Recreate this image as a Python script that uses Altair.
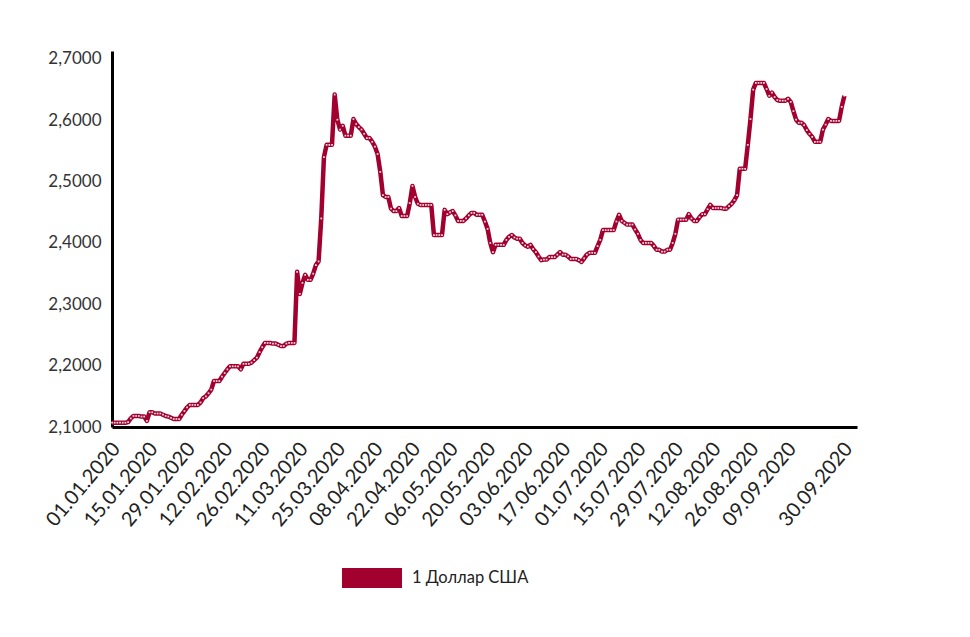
import altair as alt
import pandas as pd

# Daily official rate, 01.01.2020 .. 30.09.2020 (274 days)
rates = [
    2.107, 2.107, 2.107, 2.107, 2.107, 2.107, 2.108, 2.114, 2.118, 2.118,
    2.118, 2.117, 2.117, 2.110, 2.124, 2.124, 2.122, 2.122, 2.122, 2.120,
    2.118, 2.117, 2.115, 2.113, 2.113, 2.113, 2.120, 2.126, 2.132, 2.136,
    2.136, 2.136, 2.136, 2.140, 2.147, 2.150, 2.155, 2.161, 2.175, 2.175,
    2.175, 2.182, 2.188, 2.194, 2.199, 2.199, 2.199, 2.199, 2.194, 2.203,
    2.203, 2.203, 2.205, 2.209, 2.213, 2.222, 2.230, 2.237, 2.237, 2.237,
    2.236, 2.236, 2.234, 2.232, 2.232, 2.236, 2.237, 2.237, 2.237, 2.353,
    2.317, 2.335, 2.348, 2.340, 2.340, 2.350, 2.364, 2.370, 2.440, 2.540,
    2.560, 2.560, 2.560, 2.642, 2.601, 2.585, 2.591, 2.575, 2.575, 2.575,
    2.602, 2.594, 2.589, 2.585, 2.578, 2.571, 2.571, 2.565, 2.557, 2.545,
    2.516, 2.478, 2.475, 2.475, 2.456, 2.452, 2.452, 2.457, 2.444, 2.444,
    2.444, 2.465, 2.493, 2.475, 2.464, 2.462, 2.462, 2.462, 2.462, 2.462,
    2.413, 2.413, 2.413, 2.413, 2.454, 2.447, 2.450, 2.452, 2.445, 2.436,
    2.436, 2.436, 2.440, 2.445, 2.449, 2.449, 2.446, 2.446, 2.446, 2.435,
    2.423, 2.400, 2.385, 2.397, 2.397, 2.397, 2.397, 2.405, 2.410, 2.413,
    2.409, 2.407, 2.407, 2.400, 2.396, 2.394, 2.397, 2.390, 2.385, 2.378,
    2.372, 2.373, 2.373, 2.377, 2.377, 2.377, 2.381, 2.385, 2.381, 2.381,
    2.378, 2.374, 2.374, 2.374, 2.372, 2.369, 2.375, 2.381, 2.384, 2.384,
    2.384, 2.395, 2.405, 2.421, 2.421, 2.421, 2.421, 2.421, 2.435, 2.446,
    2.436, 2.433, 2.430, 2.430, 2.430, 2.422, 2.415, 2.405, 2.400, 2.400,
    2.400, 2.400, 2.395, 2.389, 2.389, 2.386, 2.386, 2.389, 2.389, 2.400,
    2.415, 2.438, 2.438, 2.438, 2.438, 2.447, 2.440, 2.436, 2.436, 2.442,
    2.447, 2.447, 2.455, 2.462, 2.457, 2.457, 2.457, 2.457, 2.456, 2.456,
    2.460, 2.464, 2.470, 2.478, 2.521, 2.521, 2.521, 2.560, 2.602, 2.650,
    2.661, 2.661, 2.661, 2.661, 2.651, 2.640, 2.645, 2.638, 2.633, 2.632,
    2.632, 2.632, 2.635, 2.630, 2.615, 2.601, 2.596, 2.596, 2.592, 2.584,
    2.578, 2.573, 2.565, 2.565, 2.565, 2.585, 2.593, 2.602, 2.599, 2.599,
    2.599, 2.599, 2.622, 2.640,
]
series_name = "1 Доллар США"

# x tick positions (day index from 01.01.2020) and y tick values
tick_days = [0, 14, 28, 42, 56, 70, 84, 98, 112, 126, 140, 154, 168, 182,
             196, 210, 224, 238, 252, 273]
y_ticks = [2.1, 2.2, 2.3, 2.4, 2.5, 2.6, 2.7]

df = pd.DataFrame({
    "day": list(range(len(rates))),
    "rate": rates,
    "series": [series_name] * len(rates),
})

RED = "#A2002F"

x_axis = alt.Axis(
    values=tick_days,
    labelExpr="utcFormat(1577836800000 + datum.value * 86400000, '%d.%m.%Y')",
    labelAngle=-50,
    labelAlign="right",
    labelBaseline="middle",
    labelPadding=18,
    labelOffset=4,
    labelFont="Lato",
    labelFontSize=20,
    labelColor="#222222",
    ticks=False,
    grid=False,
    domainColor="#000000",
    domainWidth=3,
    title=None,
    labelOverlap=False,
    labelBound=False,
    labelFlush=False,
)
y_axis = alt.Axis(
    values=y_ticks,
    labelExpr="replace(format(datum.value, '.4f'), '.', ',')",
    labelFont="Lato",
    labelFontSize=17,
    labelColor="#333333",
    labelPadding=11,
    ticks=False,
    grid=False,
    domainColor="#000000",
    domainWidth=3,
    title=None,
    labelOverlap=False,
)

x_scale = alt.Scale(domain=[0, 277.7], nice=False, zero=False)
y_scale = alt.Scale(domain=[2.1, 2.713], nice=False, zero=False)

x_enc = alt.X("day:Q", scale=x_scale, axis=x_axis)
y_enc = alt.Y("rate:Q", scale=y_scale, axis=y_axis)

base = alt.Chart(df)

line = base.mark_line(strokeWidth=4.5, strokeJoin="round").encode(
    x=x_enc,
    y=y_enc,
    color=alt.Color(
        "series:N",
        scale=alt.Scale(range=[RED]),
        legend=alt.Legend(
            title=None,
            orient="none",
            legendX=250,
            legendY=517,
            symbolType="M-3,-1L3,-1L3,1L-3,1Z",
            symbolSize=400,
            symbolFillColor=RED,
            symbolStrokeColor=RED,
            symbolStrokeWidth=0,
            labelOffset=30,
            labelFont="Lato",
            labelFontSize=16.5,
            labelColor="#222222",
            padding=0,
        ),
    ),
)

dots = base.mark_point(shape="square", filled=True, size=3, color="white",
                       opacity=0.85).encode(x=x_enc, y=y_enc)

chart = (
    alt.layer(line, dots)
    .properties(width=745, height=376, background="white",
                padding={"left": 34, "top": 41, "right": 5, "bottom": 5})
    .configure_view(strokeWidth=0, stroke="transparent")
)

chart.save("out.html", embed_options={"renderer": "svg", "actions": False})
